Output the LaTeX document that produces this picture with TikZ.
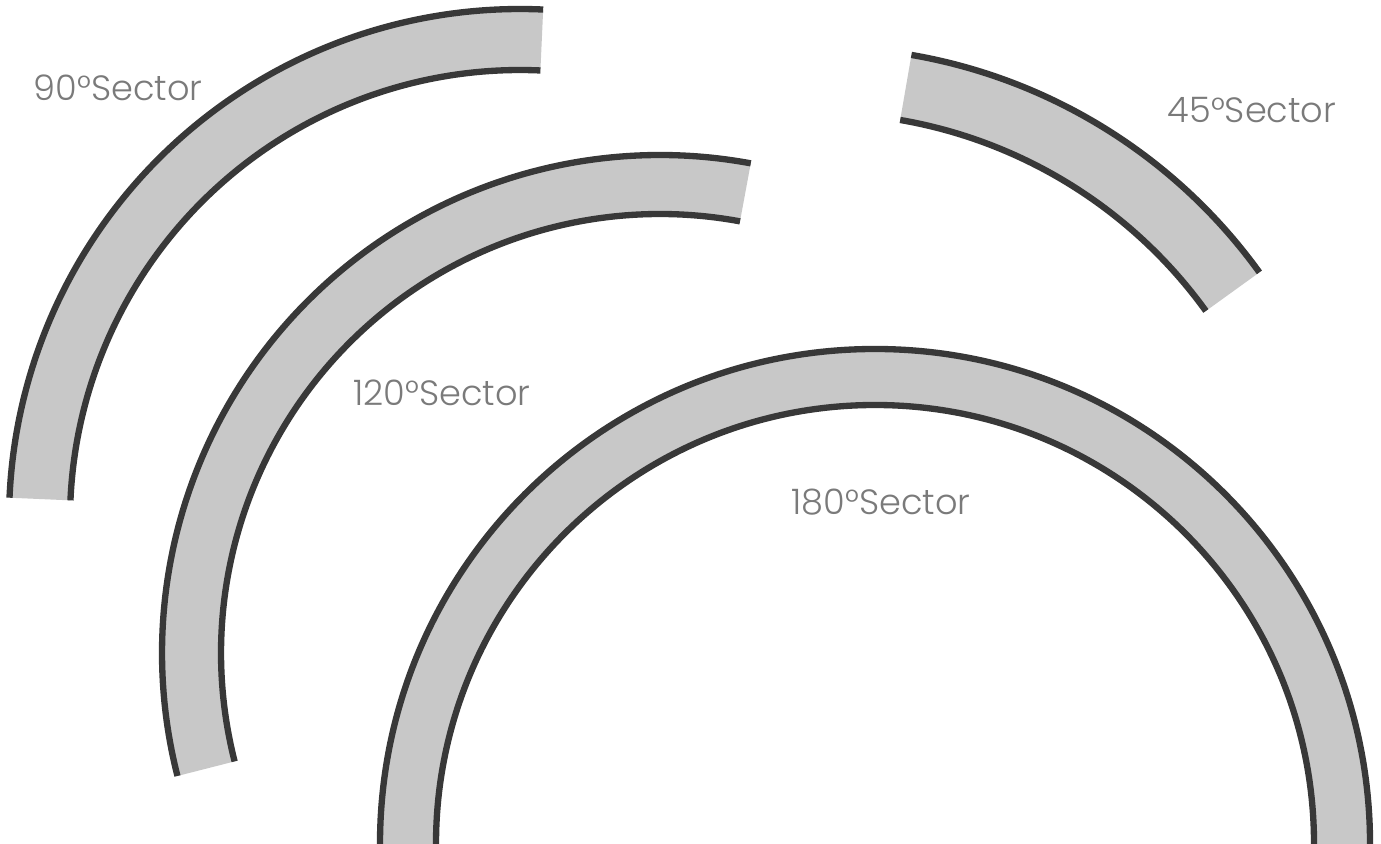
\documentclass[tikz,border=0pt]{standalone}
\usepackage{fontspec}
\setmainfont{Poppins}[UprightFont={* Light}]
\definecolor{bandgray}{HTML}{C8C8C8}
\definecolor{rimdark}{HTML}{383838}
\definecolor{labelgray}{HTML}{7A7A7A}
\tikzset{
  band/.style={fill=bandgray},
  rim/.style={draw=rimdark, line width=3.6pt},
  sectorlabel/.style={text=labelgray, inner sep=0pt, font=\fontsize{20}{24}\selectfont}
}
\begin{document}
\begin{tikzpicture}[x=0.02cm, y=0.02cm]
      \useasboundingbox (0,0) rectangle (1381,844);
      % centres of the four bands
      \coordinate (c90) at (520,324);
      \coordinate (c120) at (660,191);
      \coordinate (c45) at (819,254);
      \coordinate (c180) at (875,0);
      % 90 degree band
      \fill[band, shift={(c90)}] (87.4:511) arc[start angle=87.4, end angle=177.5, radius=511]
        -- (177.5:450) arc[start angle=177.5, end angle=87.4, radius=450] -- cycle;
      \draw[rim, shift={(c90)}] (87.4:511) arc[start angle=87.4, end angle=177.5, radius=511];
      \draw[rim, shift={(c90)}] (87.4:450) arc[start angle=87.4, end angle=177.5, radius=450];
      % 120 degree band
      \fill[band, shift={(c120)}] (79.5:498) arc[start angle=79.5, end angle=194.3, radius=498]
        -- (194.3:439) arc[start angle=194.3, end angle=79.5, radius=439] -- cycle;
      \draw[rim, shift={(c120)}] (79.5:498) arc[start angle=79.5, end angle=194.3, radius=498];
      \draw[rim, shift={(c120)}] (79.5:439) arc[start angle=79.5, end angle=194.3, radius=439];
      % 45 degree band
      \fill[band, shift={(c45)}] (35.8:543) arc[start angle=35.8, end angle=80.2, radius=543]
        -- (80.2:477) arc[start angle=80.2, end angle=35.8, radius=477] -- cycle;
      \draw[rim, shift={(c45)}] (35.8:543) arc[start angle=35.8, end angle=80.2, radius=543];
      \draw[rim, shift={(c45)}] (35.8:477) arc[start angle=35.8, end angle=80.2, radius=477];
      % 180 degree band
      \fill[band, shift={(c180)}] (0:495) arc[start angle=0, end angle=180, radius=495]
        -- (180:439) arc[start angle=180, end angle=0, radius=439] -- cycle;
      \draw[rim, shift={(c180)}] (0:495) arc[start angle=0, end angle=180, radius=495];
      \draw[rim, shift={(c180)}] (0:439) arc[start angle=0, end angle=180, radius=439];
      % labels
      \node[sectorlabel] (lab90) at (118,756) {90°Sector};
      \node[sectorlabel] (lab45) at (1252,734) {45°Sector};
      \node[sectorlabel] (lab120) at (442,451) {120°Sector};
      \node[sectorlabel] (lab180) at (881,342) {180°Sector};
\end{tikzpicture}
\end{document}
